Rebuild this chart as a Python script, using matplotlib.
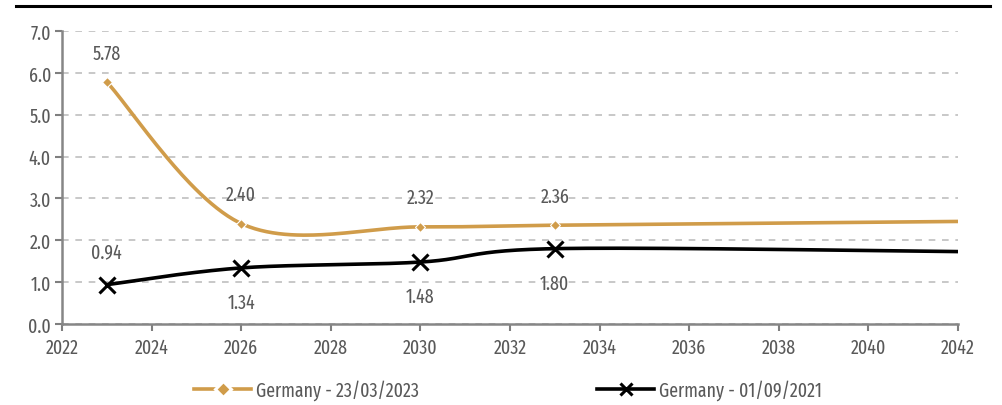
import matplotlib
matplotlib.use("Agg")
import matplotlib.pyplot as plt
from matplotlib import font_manager as fm
from matplotlib.lines import Line2D
import numpy as np

# series values
years_new = [2023, 2026, 2030, 2033, 2042]
vals_new = [5.78, 2.40, 2.32, 2.36, 2.45]
years_old = [2023, 2026, 2030, 2033, 2042]
vals_old = [0.94, 1.34, 1.48, 1.80, 1.73]
n_labelled = 4  # points carrying marker + data label
label_new = "Germany - 23/03/2023"
label_old = "Germany - 01/09/2021"
x_ticks = list(range(2022, 2043, 2))
y_ticks = [0, 1, 2, 3, 4, 5, 6, 7]

GOLD = "#D09C4A"
GREY = "#595959"

# condensed face like the original; take the first one that is installed
have = {f.name for f in fm.fontManager.ttflist}
cands = ["Fira Sans Extra Condensed", "Fira Sans Condensed", "Roboto Condensed",
         "Barlow Semi Condensed", "Barlow Condensed", "Asap Condensed",
         "Liberation Sans Narrow"]
face = [c for c in cands if c in have][:1]
plt.rcParams["font.family"] = face + ["DejaVu Sans"]
FS = 14


def smooth(xs, ys, n=60):
    """Excel-style smoothed line: cubic Bezier with Catmull-Rom control points."""
    p = np.column_stack([xs, ys]).astype(float)
    p = np.vstack([p[0], p, p[-1]])
    out = []
    for i in range(1, len(p) - 2):
        p0, p1, p2, p3 = p[i - 1], p[i], p[i + 1], p[i + 2]
        c1 = p1 + (p2 - p0) / 6
        c2 = p2 - (p3 - p1) / 6
        t = np.linspace(0, 1, n)[:, None]
        seg = ((1 - t) ** 3) * p1 + 3 * ((1 - t) ** 2) * t * c1 + 3 * (1 - t) * t ** 2 * c2 + t ** 3 * p2
        out.append(seg if i == 1 else seg[1:])
    s = np.vstack(out)
    return s[:, 0], s[:, 1]


fig = plt.figure(figsize=(10.02, 4.06), dpi=100)
ax = fig.add_axes([62 / 1002, 1 - 325 / 406, 896 / 1002, 293 / 406])

sx, sy = smooth(years_new, vals_new)
ax.plot(sx, sy, color=GOLD, lw=2.6, zorder=3, solid_capstyle="butt")
ax.plot(years_new[:n_labelled], vals_new[:n_labelled], ls="none", marker="D",
        ms=5, color=GOLD, mec="white", mew=0.8, zorder=4)
sx, sy = smooth(years_old, vals_old)
ax.plot(sx, sy, color="black", lw=2.6, zorder=3)
ax.plot(years_old[:n_labelled], vals_old[:n_labelled], ls="none", marker="x",
        ms=11, mew=2.2, color="black", zorder=4)

# data labels
for x, y in zip(years_new[:n_labelled], vals_new[:n_labelled]):
    ax.annotate(f"{y:.2f}", (x, y), xytext=(0, 21), textcoords="offset points",
                ha="center", va="center", fontsize=FS, color=GREY)
for i, (x, y) in enumerate(zip(years_old[:n_labelled], vals_old[:n_labelled])):
    dy = 23 if i == 0 else -25
    ax.annotate(f"{y:.2f}", (x, y), xytext=(0, dy), textcoords="offset points",
                ha="center", va="center", fontsize=FS, color=GREY)

ax.set_xlim(2022, 2042)
ax.set_ylim(0, 7)
ax.set_xticks(x_ticks)
ax.set_yticks(y_ticks)
ax.set_yticklabels([f"{v:.1f}" for v in y_ticks])
ax.tick_params(axis="both", colors="#7F7F7F", labelcolor=GREY, labelsize=FS,
               length=5, width=1.5)
ax.tick_params(axis="x", direction="out", pad=5)
ax.tick_params(axis="y", direction="out", pad=3)
for side in ("top", "right"):
    ax.spines[side].set_visible(False)
for side in ("left", "bottom"):
    ax.spines[side].set_color("#868686")
    ax.spines[side].set_linewidth(1.8)
ax.yaxis.grid(True, ls=(0, (4, 4)), color="#BFBFBF", lw=1.2)
ax.set_axisbelow(True)

handles = [
    Line2D([], [], color=GOLD, lw=2.6, marker="D", ms=8, mec="white", mew=2.2),
    Line2D([], [], color="black", lw=2.6, marker="x", ms=9, mew=2.2),
]
fig.legend(handles, [label_new, label_old], loc="center", ncol=2,
           bbox_to_anchor=(0.507, 1 - 391 / 406), frameon=False, fontsize=FS,
           labelcolor=GREY, handlelength=2.9, handletextpad=0.25,
           columnspacing=9.2)

fig.add_artist(Line2D([16 / 1002, 990 / 1002], [1 - 7 / 406, 1 - 7 / 406],
                      color="black", lw=2.2))

fig.savefig("out.png", dpi=100)
